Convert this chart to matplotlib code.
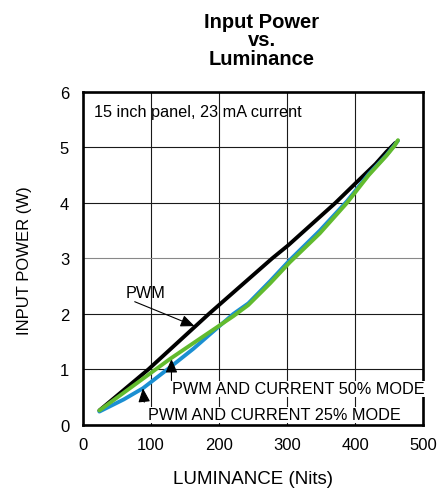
import matplotlib.pyplot as plt

# luminance (Nits) vs input power (W)
pwm_x = [24, 96, 185, 278, 302, 371, 402, 430, 446, 459]
pwm_y = [0.26, 1.00, 2.00, 3.00, 3.24, 4.00, 4.37, 4.70, 4.92, 5.08]

mode50_x = [24, 80, 128, 175, 221, 243, 275, 304, 348, 388, 420, 446, 458, 463]
mode50_y = [0.26, 0.76, 1.19, 1.58, 1.96, 2.16, 2.55, 2.93, 3.45, 4.00, 4.50, 4.85, 5.03, 5.13]

mode25_x = [24, 60, 88, 124, 162, 221, 243, 275, 304, 348, 388, 420, 446, 463]
mode25_y = [0.24, 0.46, 0.66, 1.00, 1.37, 2.00, 2.19, 2.59, 2.97, 3.50, 4.03, 4.52, 4.86, 5.12]

xticks = [0, 100, 200, 300, 400, 500]
yticks = [0, 1, 2, 3, 4, 5, 6]

plt.rcParams['font.family'] = ['Liberation Sans', 'DejaVu Sans']

fig = plt.figure(figsize=(4.44, 4.89), dpi=100)
ax = fig.add_axes([0.187, 0.129, 0.766, 0.681])

ax.plot(mode25_x, mode25_y, color='#1b8fd2', lw=2.8, solid_capstyle='round', zorder=3)
ax.plot(mode50_x, mode50_y, color='#62bb2e', lw=2.8, solid_capstyle='round', zorder=4)
ax.plot(pwm_x, pwm_y, color='black', lw=2.8, solid_capstyle='round', zorder=2.5)

ax.set_xlim(0, 500)
ax.set_ylim(0, 6)
ax.set_xticks(xticks)
ax.set_yticks(yticks)
ax.tick_params(length=0, labelsize=12)
ax.tick_params(axis='x', pad=9)
ax.tick_params(axis='y', pad=10)
ax.grid(True, color='#1a1a1a', lw=0.8)
ax.get_ygridlines()[3].set_color('#888888')
ax.set_axisbelow(True)
for s in ax.spines.values():
    s.set_linewidth(1.9)

fig.text(0.569, 0.0102, 'LUMINANCE (Nits)', ha='center', va='baseline', fontsize=13.5)
fig.text(0.056, 0.468, 'INPUT POWER (W)', ha='center', va='center', rotation=90, fontsize=12)

# three title lines, placed one by one
title_lines = ['Input Power', 'vs.', 'Luminance']
for i, line in enumerate(title_lines):
    fig.text(0.589, 1 - (28 + 18.5 * i) / 489, line, ha='center', va='baseline',
             fontsize=14.5, fontweight='bold')

box = dict(facecolor='white', edgecolor='none', pad=0.5)
ax.text(16, 5.65, '15 inch panel, 23 mA current', fontsize=11.7, va='center')

arrow = dict(arrowstyle='-|>,head_length=0.7,head_width=0.3', color='black', lw=0.8,
             mutation_scale=12, shrinkA=0, shrinkB=0)
ax.annotate('', xy=(164, 1.78), xytext=(76, 2.22), arrowprops=arrow)
ax.text(62, 2.38, 'PWM', fontsize=11.7, va='center')
ax.annotate('', xy=(130, 1.19), xytext=(130, 0.80), arrowprops=arrow)
ax.text(131, 0.65, 'PWM AND CURRENT 50% MODE', fontsize=11.7, va='center', bbox=box, zorder=5)
ax.annotate('', xy=(88, 0.66), xytext=(90, 0.41), arrowprops=arrow)
ax.text(95, 0.18, 'PWM AND CURRENT 25% MODE', fontsize=11.7, va='center', bbox=box, zorder=5)

fig.savefig('out.png', dpi=100)
